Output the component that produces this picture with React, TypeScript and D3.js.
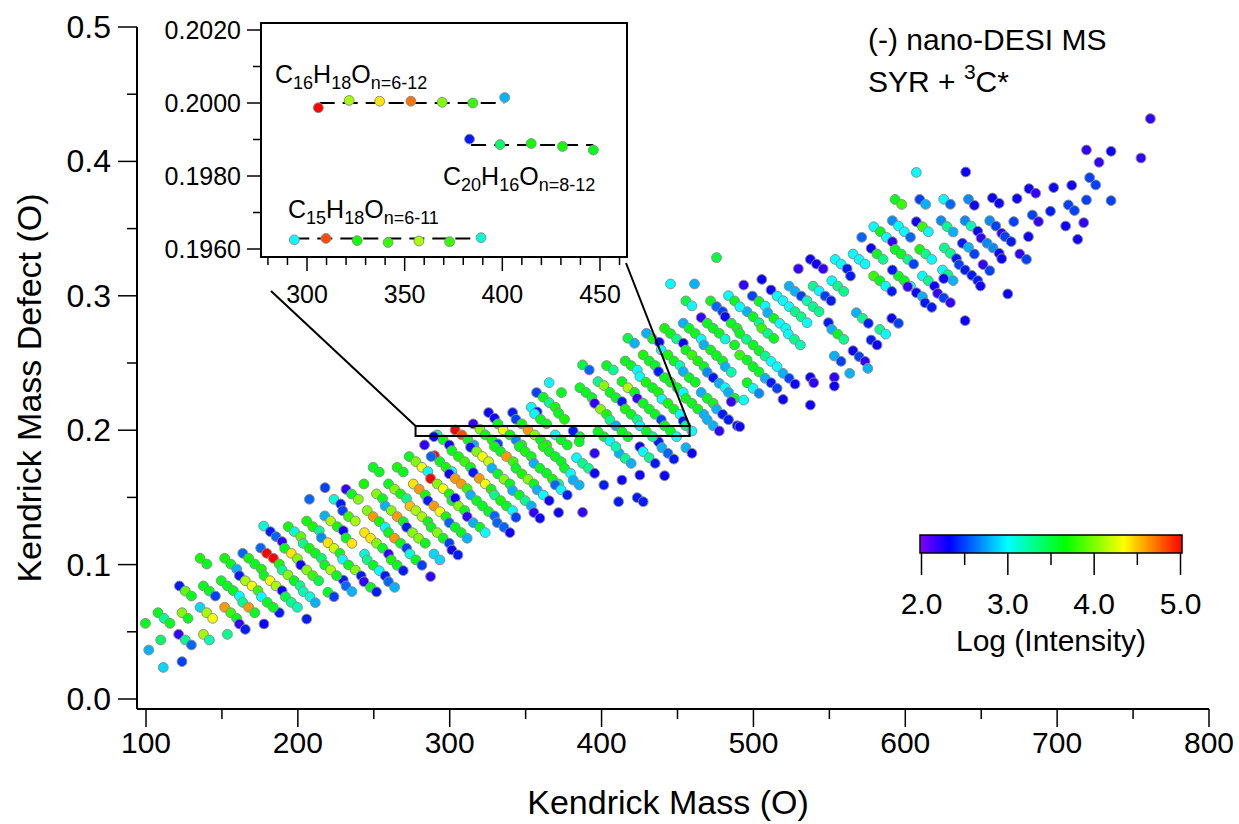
import React, { useEffect, useRef } from 'react'
import * as d3 from 'd3'

const WIDTH = 1239
const HEIGHT = 824

// main axes
const massTicks = [100, 200, 300, 400, 500, 600, 700, 800]
const massMinorTicks = [150, 250, 350, 450, 550, 650, 750]
const defectTicks = [0, 0.1, 0.2, 0.3, 0.4, 0.5]
const defectMinorTicks = [0.05, 0.15, 0.25, 0.35, 0.45]

// colour scale (log intensity)
const intensityTicks = [2, 3, 4, 5]
const intensityMinorTicks = [2.5, 3.5, 4.5]
const colorStops = [2.0, 2.333, 3.0, 3.667, 4.333, 5.0]
const colorValues = ['#8000ff', '#0000ff', '#00ffff', '#00ff00', '#ffff00', '#ff0000']

// [Kendrick mass, Kendrick mass defect, log intensity]
const lowMass = [
  [217.9,.1572,2.5],[231.7,.1560,2.2],[207.6,.1486,2.6],[223.8,.1486,3.1],[228.2,.1451,2.4],[229.5,.1401,2.5],[235.4,.1525,3.6],[239.8,.1486,4.0],
  [217.7,.1362,2.8],[221.6,.1324,4.1],[226.0,.1282,3.7],[229.9,.1252,2.3],[233.4,.1357,3.8],[237.8,.1324,4.1],[231.7,.1198,3.6],[235.6,.1158,4.4],
  [205.8,.1324,3.7],[209.8,.1282,3.7],[214.1,.1252,3.3],[215.5,.1200,2.7],[219.8,.1163,4.4],[223.8,.1121,4.2],[227.7,.1084,3.6],[229.5,.1039,3.0],
  [233.4,.0997,3.6],[237.8,.0960,4.0],[229.9,.0885,2.4],[231.7,.0841,2.6],[235.6,.0799,2.8],[193.7,.1282,3.7],[197.7,.1245,3.1],[201.9,.1208,3.9],
  [203.4,.1158,3.3],[207.6,.1121,3.7],[211.5,.1084,3.6],[215.5,.1047,3.4],[217.7,.0997,3.6],[221.6,.0960,4.1],[225.5,.0918,3.6],[219.8,.0794,3.6],
  [223.8,.0761,2.5],[177.5,.1287,3.1],[181.9,.1245,2.4],[185.6,.1208,2.6],[189.6,.1171,2.2],[191.3,.1121,3.6],[195.7,.1084,4.4],[199.7,.1044,4.0],
  [201.9,.0997,2.3],[205.8,.0960,4.0],[209.8,.0918,3.8],[213.7,.0880,3.5],[175.5,.1123,2.6],[179.5,.1084,5.0],[183.9,.1047,5.0],[187.8,.1004,3.7],
  [189.6,.0960,3.3],[193.5,.0923,4.0],[197.5,.0880,3.6],[201.4,.0843,3.3],[203.6,.0799,3.2],[208.0,.0761,3.1],[211.5,.0717,2.8],[205.8,.0595,2.4],
  [163.7,.1084,2.6],[167.6,.1047,3.7],[171.6,.1004,3.6],[176.0,.0967,3.7],[177.7,.0918,3.6],[181.7,.0880,4.3],[185.6,.0841,4.1],[189.6,.0806,2.3],
  [191.8,.0761,3.5],[195.7,.0719,3.3],[199.7,.0682,3.2],[187.8,.0642,2.4],[177.7,.0558,2.3],[151.8,.1047,3.7],[155.8,.1004,3.6],[159.7,.0967,2.8],
  [161.5,.0918,2.4],[165.4,.0880,4.1],[169.8,.0841,4.3],[173.8,.0806,3.8],[176.0,.0761,3.0],[179.9,.0719,3.6],[183.8,.0682,3.6],[149.6,.0880,3.6],
  [153.6,.0841,3.6],[157.5,.0806,3.6],[161.5,.0766,3.0],[163.7,.0719,3.3],[167.6,.0682,4.6],[171.6,.0642,3.6],[135.6,.1047,3.7],[140.0,.1004,3.6],
  [137.8,.0841,3.6],[141.7,.0803,3.6],[145.7,.0766,2.5],[135.6,.0682,2.9],[140.0,.0642,4.1],[143.9,.0600,4.3],[151.8,.0682,4.6],[155.8,.0642,3.8],
  [159.7,.0600,3.6],[161.5,.0558,2.2],[165.4,.0518,2.4],[122.0,.0841,2.4],[125.9,.0803,3.9],[129.9,.0766,3.6],[107.9,.0642,3.6],[111.9,.0600,3.3],
  [115.8,.0563,3.6],[123.7,.0642,4.0],[127.7,.0600,3.6],[99.6,.0563,3.6],[109.7,.0439,3.4],[101.8,.0364,2.8],[121.5,.0481,2.2],[125.9,.0439,3.3],
  [129.9,.0402,2.6],[137.8,.0481,4.1],[141.7,.0439,3.2],[153.6,.0481,3.3],[111.4,.0235,2.9],[123.7,.0278,2.5],
]

const midLowMass = [
  [365.5,.2354,3.0],[357.2,.2280,2.5],[361.6,.2245,3.6],[365.5,.2205,3.3],[373.6,.2280,3.6],[353.7,.2171,3.0],[357.6,.2136,2.4],[355.9,.2121,3.0],
  [359.8,.2081,3.6],[363.8,.2047,3.6],[369.5,.2171,3.7],[371.7,.2126,3.6],[375.6,.2081,3.7],[325.6,.2131,2.3],[329.5,.2089,2.3],[331.7,.2047,3.6],
  [341.4,.2131,2.4],[343.6,.2081,2.5],[347.5,.2047,3.7],[315.5,.2047,2.2],[319.9,.2007,4.0],[323.4,.1965,3.6],[327.8,.1928,3.7],[331.7,.1898,2.5],
  [303.6,.2002,5.0],[308.0,.1965,4.8],[312.0,.1928,3.6],[315.9,.1890,2.8],[335.2,.2002,4.3],[339.6,.1965,3.6],[343.6,.1928,2.7],[347.5,.1890,3.7],
  [351.5,.2002,4.6],[355.9,.1965,4.0],[359.8,.1928,3.6],[363.8,.1890,3.7],[369.5,.1965,3.0],[373.4,.1928,3.6],[377.4,.1890,3.6],[291.8,.1965,3.3],
  [289.6,.1952,2.3],[295.7,.1928,3.6],[299.7,.1890,2.3],[301.4,.1848,3.6],[305.8,.1804,3.7],[309.8,.1766,3.8],[313.7,.1724,3.6],[315.5,.1685,2.4],
  [313.7,.1873,2.4],[317.7,.1841,4.0],[321.6,.1804,4.3],[325.6,.1766,4.2],[327.8,.1717,2.8],[331.7,.1675,3.6],[335.7,.1635,4.0],[339.6,.1600,3.6],
  [329.5,.1878,3.7],[333.5,.1841,3.6],[337.4,.1804,4.6],[341.8,.1766,3.8],[343.6,.1717,3.6],[347.5,.1675,3.7],[351.5,.1635,4.0],[355.4,.1600,3.6],
  [345.8,.1878,3.6],[349.7,.1841,3.7],[353.7,.1804,3.6],[355.4,.1754,2.8],[359.4,.1717,3.6],[363.8,.1680,3.6],[367.7,.1635,3.7],[371.7,.1600,3.3],
  [361.6,.1878,3.7],[365.5,.1841,3.6],[369.5,.1804,3.6],[373.4,.1766,3.6],[375.6,.1717,3.6],[283.4,.1890,2.2],[273.3,.1804,3.6],[277.7,.1766,4.0],
  [281.7,.1724,4.3],[285.6,.1692,3.0],[290.0,.1810,5.0],[287.8,.1804,2.6],[293.5,.1766,3.6],[297.5,.1724,3.7],[301.4,.1692,3.0],[299.7,.1675,2.3],
  [303.6,.1640,4.6],[307.6,.1600,4.6],[311.5,.1565,3.8],[313.7,.1518,2.8],[317.7,.1476,3.6],[321.6,.1436,3.6],[325.6,.1394,3.6],[329.5,.1362,2.6],
  [331.3,.1312,2.6],[335.7,.1278,2.6],[339.6,.1238,2.3],[287.4,.1640,5.0],[291.8,.1600,4.0],[295.7,.1565,4.3],[299.7,.1526,3.7],[301.4,.1476,3.6],
  [303.6,.1494,2.3],[305.8,.1436,4.0],[309.8,.1402,3.6],[311.5,.1357,2.2],[315.5,.1312,2.8],[319.9,.1278,3.6],[323.4,.1238,3.0],[319.4,.1642,4.6],
  [323.4,.1600,4.3],[327.3,.1561,3.6],[329.5,.1518,3.3],[333.5,.1476,3.7],[337.4,.1436,3.6],[341.4,.1402,3.0],[343.6,.1352,2.5],[341.4,.1551,2.8],
  [345.8,.1518,3.6],[349.7,.1476,3.3],[353.7,.1436,2.8],[355.4,.1387,2.2],[359.4,.1345,2.3],[357.6,.1556,2.8],[361.6,.1518,3.0],[365.5,.1476,2.3],
  [371.7,.1387,2.3],[369.5,.1593,2.6],[373.4,.1556,3.0],[377.4,.1518,2.4],[249.6,.1724,3.6],[253.6,.1689,3.6],[265.4,.1724,3.7],[269.4,.1689,3.6],
  [243.5,.1600,3.7],[259.7,.1600,3.6],[263.7,.1561,4.0],[267.6,.1526,3.7],[271.6,.1491,3.3],[273.8,.1436,4.5],[276.0,.1600,4.4],[279.9,.1561,4.6],
  [283.9,.1518,3.7],[285.6,.1476,2.4],[289.6,.1436,4.6],[293.5,.1394,4.3],[297.5,.1357,3.7],[299.7,.1312,2.6],[303.6,.1278,3.6],[307.6,.1238,3.6],
  [311.5,.1196,2.8],[251.8,.1526,4.0],[255.8,.1491,3.6],[257.5,.1436,2.8],[261.5,.1402,4.0],[265.4,.1357,4.6],[269.4,.1320,3.6],[271.6,.1278,2.4],
  [275.5,.1238,4.0],[279.5,.1196,4.0],[283.9,.1159,3.6],[277.7,.1402,4.1],[281.7,.1357,4.1],[285.6,.1320,3.6],[287.8,.1278,3.6],[291.8,.1238,4.0],
  [295.7,.1196,3.6],[299.7,.1159,2.5],[301.4,.1109,2.3],[305.4,.1072,2.4],[245.7,.1402,4.0],[249.6,.1357,4.6],[253.6,.1320,3.7],[257.5,.1278,3.0],
  [259.7,.1238,3.6],[263.7,.1196,4.6],[267.6,.1159,3.6],[271.6,.1122,2.5],[273.8,.1079,3.1],[277.7,.1035,3.6],[281.7,.0995,2.5],[289.6,.1079,2.9],
  [293.5,.1035,2.9],[287.4,.0911,2.2],[243.9,.1238,4.4],[247.9,.1196,4.4],[251.8,.1159,4.0],[255.8,.1122,3.6],[259.7,.1079,2.2],[261.5,.1035,3.7],
  [265.4,.0995,3.6],[269.4,.0955,2.4],[243.9,.1079,3.1],[245.7,.1035,3.3],[249.6,.0995,3.6],[253.6,.0955,3.0],[257.5,.0916,2.4],[259.7,.0873,2.6],
  [263.7,.0831,2.8],[241.7,.0916,2.4],[243.5,.0873,2.2],[247.9,.0831,3.6],[251.8,.0797,2.4],
]

const midMass = [
  [475.7,.3284,3.5],[445.4,.3088,3.0],[461.2,.3088,2.8],[483.6,.3001,3.0],[487.6,.2962,3.6],[455.5,.2962,3.5],[459.5,.2925,3.0],[471.8,.2962,3.6],
  [475.7,.2920,2.6],[479.7,.2882,2.5],[481.4,.2845,2.3],[465.6,.2838,2.2],[469.6,.2796,3.6],[473.5,.2758,3.6],[477.5,.2721,3.6],[481.4,.2679,3.1],
  [485.4,.2796,3.6],[489.3,.2758,3.6],[453.8,.2796,2.8],[457.7,.2758,3.6],[461.7,.2719,3.6],[465.6,.2679,3.0],[467.4,.2634,2.8],[471.8,.2597,3.6],
  [475.7,.2555,3.6],[479.7,.2515,3.6],[481.4,.2473,2.8],[485.4,.2431,3.2],[441.5,.2758,3.7],[445.4,.2719,3.6],[449.4,.2679,3.3],[453.8,.2647,2.3],
  [455.5,.2597,3.6],[459.5,.2560,3.8],[463.4,.2515,3.7],[467.4,.2473,3.6],[469.6,.2431,2.7],[473.5,.2391,2.4],[477.5,.2349,2.8],[429.6,.2721,2.8],
  [433.6,.2679,3.6],[438.0,.2654,2.3],[439.3,.2597,3.0],[443.7,.2560,3.7],[447.6,.2515,3.6],[451.6,.2481,3.2],[453.8,.2436,2.8],[457.7,.2391,3.6],
  [461.7,.2357,3.6],[417.3,.2684,3.5],[421.7,.2647,2.8],[427.4,.2560,3.7],[431.4,.2515,3.6],[435.3,.2481,3.6],[437.5,.2436,2.4],[441.5,.2391,3.6],
  [445.4,.2357,3.6],[415.6,.2515,3.6],[419.5,.2481,3.6],[423.5,.2448,3.0],[425.2,.2399,3.0],[429.2,.2357,3.7],[403.3,.2481,3.6],[407.7,.2448,3.3],
  [387.5,.2486,3.5],[391.9,.2448,2.6],[413.4,.2362,3.6],[397.6,.2362,3.3],[401.5,.2332,4.0],[487.6,.2634,3.6],
  [385.7,.2316,3.6],[389.7,.2281,3.6],[393.6,.2242,3.6],[395.4,.2200,2.2],[399.3,.2157,4.0],[403.3,.2118,3.7],[405.5,.2076,3.3],[409.4,.2033,2.8],
  [405.5,.2281,3.6],[409.4,.2242,3.6],[413.4,.2212,2.4],[415.6,.2157,3.7],[419.5,.2118,3.6],[423.5,.2078,3.3],[425.2,.2033,3.0],[417.3,.2316,4.1],
  [421.7,.2281,3.6],[423.5,.2237,2.2],[427.4,.2200,3.6],[431.4,.2157,3.6],[435.3,.2118,3.6],[439.3,.2078,2.5],[441.5,.2033,3.6],[445.4,.1994,3.6],
  [449.4,.1952,3.0],[433.6,.2316,3.6],[437.5,.2281,3.7],[439.7,.2232,3.0],[443.7,.2200,3.7],[447.6,.2157,3.6],[451.6,.2118,3.0],[453.8,.2068,2.4],
  [455.5,.2033,3.3],[459.5,.1994,3.0],[449.8,.2316,3.6],[453.8,.2281,3.0],[455.5,.2237,3.6],[459.5,.2200,3.6],[463.4,.2157,3.6],[467.4,.2118,2.8],
  [469.6,.2078,2.8],[473.5,.2033,2.8],[477.5,.1994,2.2],[465.6,.2281,2.8],[469.6,.2237,3.6],[473.5,.2200,3.6],[475.7,.2157,2.8],[479.7,.2118,2.4],
  [483.6,.2078,2.4],[489.3,.2033,2.4],[481.4,.2316,3.0],[483.6,.2281,2.8],[487.6,.2237,3.6],[485.4,.2212,2.2],[381.3,.1994,2.4],[383.5,.1795,3.0],
  [387.5,.1753,3.3],[391.4,.1716,3.3],[395.4,.1679,2.3],[379.6,.1679,3.0],[381.3,.1629,2.8],[385.3,.1592,2.8],[387.5,.1389,2.2],[395.4,.1828,2.2],
  [401.5,.1592,2.4],[413.4,.1629,2.3],[411.2,.1468,2.4],[423.5,.1498,2.4],[427.4,.1468,2.4],[425.2,.1666,2.3],[441.5,.1661,2.3],[411.6,.1828,2.8],
  [415.6,.1790,3.3],[419.5,.1753,2.8],[425.2,.1877,2.3],[427.4,.1840,3.0],[431.4,.1795,3.3],[435.3,.1753,2.4],[437.5,.1914,2.4],[439.7,.1870,2.8],
  [443.7,.1828,2.6],[447.6,.1785,2.4],[455.5,.1870,2.8],[459.5,.1828,2.3],[385.7,.1952,3.6],[401.5,.1952,3.6],[397.6,.1989,3.6],[413.4,.1989,3.6],
  [417.3,.1952,3.6],[429.6,.1989,3.6],[433.6,.1952,3.3],[385.3,.1914,3.6],[405.5,.1919,3.0],[409.4,.1877,3.2],
]

const upperMass = [
  [607.3,.3918,3.0],[593.3,.3717,3.6],[597.6,.3680,3.8],[609.5,.3717,2.5],[613.4,.3680,2.8],[591.5,.3559,2.7],[595.5,.3519,3.0],[599.4,.3477,3.0],
  [603.4,.3435,2.6],[607.3,.3551,2.3],[611.3,.3514,3.8],[615.2,.3477,3.0],[579.2,.3514,3.0],[583.6,.3477,3.6],[587.6,.3435,3.0],[591.5,.3402,2.2],
  [571.3,.3435,2.6],[577.5,.3353,2.3],[581.4,.3311,3.6],[585.4,.3271,3.3],[593.3,.3345,3.6],[597.2,.3311,3.6],[601.6,.3271,3.3],[605.5,.3236,2.5],
  [609.5,.3345,3.7],[613.4,.3311,3.3],[617.4,.3271,3.0],[537.5,.3271,2.3],[541.5,.3236,2.3],[545.9,.3201,2.2],[529.6,.3201,2.2],[553.8,.3271,3.0],
  [557.7,.3236,3.0],[561.7,.3201,2.4],[565.6,.3311,3.0],[569.6,.3271,3.0],[573.5,.3236,3.0],[563.9,.3147,2.4],[579.2,.3147,3.8],[583.2,.3112,3.6],
  [587.1,.3072,3.0],[591.1,.3033,2.4],[595.5,.3147,3.6],[599.4,.3112,3.6],[603.4,.3072,3.0],[591.5,.3192,2.4],[611.3,.3147,3.0],[615.2,.3112,3.3],
  [619.2,.3072,2.3],[601.6,.3068,2.2],[607.3,.3023,2.3],[611.3,.2993,2.8],[613.0,.2948,2.4],[617.4,.2914,2.4],[621.3,.3018,2.2],[551.6,.3112,3.0],
  [555.5,.3072,3.3],[559.5,.3033,3.3],[539.3,.3072,3.3],[543.2,.3037,3.0],[547.2,.2998,2.5],[551.1,.2963,2.4],[523.5,.3072,2.8],[527.4,.3033,2.8],
  [531.4,.2998,2.5],[535.3,.2963,3.2],[539.3,.2919,3.3],[543.2,.2882,3.3],[511.6,.3043,2.3],[515.6,.2998,3.0],[519.5,.2963,3.0],[523.5,.2919,3.0],
  [527.4,.2882,3.3],[531.4,.2844,3.3],[535.3,.2800,3.0],[505.5,.3122,2.3],[493.6,.3080,2.2],[499.3,.2998,2.5],[503.7,.2958,3.6],[507.7,.2924,3.0],
  [509.4,.2874,2.8],[513.4,.2832,3.6],[517.3,.2795,3.0],[521.3,.2758,3.0],[523.0,.2715,3.0],[527.0,.2676,3.3],[530.9,.2634,3.2],[495.8,.2882,2.8],
  [499.8,.2844,3.6],[503.7,.2800,3.3],[505.5,.2758,3.8],[509.4,.2720,3.3],[513.4,.2683,3.6],[549.4,.2800,2.4],[551.6,.2750,2.8],[555.5,.2715,3.6],
  [559.5,.2676,3.3],[567.8,.2874,2.8],[571.8,.2832,3.3],[575.7,.2795,2.4],[577.5,.2671,2.4],[581.4,.2634,2.3],[583.2,.2750,3.3],[587.1,.2715,3.0],
  [591.1,.2832,2.3],[595.5,.2795,2.5],[565.6,.2591,2.3],[569.6,.2547,2.5],[573.5,.2512,2.2],[575.3,.2460,2.8],[553.3,.2552,2.8],[557.7,.2512,2.5],
  [563.4,.2423,2.8],[537.5,.2393,2.3],[539.7,.2353,2.2],[553.3,.2393,2.2],[553.3,.2328,2.3],[537.5,.2187,2.3],[491.0,.2026,2.3],[491.0,.2919,3.0],
  [491.0,.2720,3.6],[495.4,.2676,3.3],[499.8,.2634,3.6],[503.7,.2591,3.6],[507.7,.2552,3.3],[511.6,.2512,3.0],[515.6,.2472,3.0],[519.5,.2423,2.8],
  [523.5,.2386,2.5],[527.4,.2343,2.3],[491.0,.2559,3.8],[495.8,.2522,3.6],[499.8,.2472,3.6],[503.7,.2433,3.6],[507.7,.2386,2.8],[511.6,.2353,2.4],
  [515.6,.2311,2.5],[519.5,.2229,2.3],[495.8,.2353,3.6],[499.8,.2311,3.0],[503.7,.2274,2.7],[493.6,.2224,3.0],
]

const highMass = [
  [761.4,.4318,2.2],[719.3,.4085,2.2],[735.5,.4075,2.3],[727.6,.3993,2.2],[755.2,.4025,2.2],[721.4,.3879,2.5],[725.4,.3825,2.5],[639.8,.3921,2.3],
  [681.5,.3797,2.3],[685.9,.3763,2.2],[697.7,.3805,2.3],[709.6,.3822,2.3],[673.6,.3723,2.3],[657.4,.3728,2.3],[661.8,.3688,2.3],[641.6,.3718,2.7],
  [645.5,.3673,2.3],[625.3,.3718,3.0],[629.7,.3681,2.6],[719.3,.3713,2.5],[735.5,.3708,2.5],[707.4,.3676,2.5],[711.4,.3634,2.5],[695.6,.3629,2.4],
  [683.7,.3601,2.5],[687.7,.3552,2.2],[671.4,.3552,2.5],[655.6,.3559,2.7],[659.6,.3519,2.5],[663.5,.3465,2.2],[665.7,.3440,2.5],[669.7,.3403,2.4],
  [639.4,.3559,2.7],[643.3,.3519,3.2],[647.7,.3480,2.3],[649.9,.3430,2.2],[653.9,.3391,2.7],[657.8,.3356,2.7],[661.8,.3316,2.3],[663.5,.3276,2.3],
  [623.6,.3559,2.7],[627.5,.3515,3.3],[631.5,.3475,2.8],[637.6,.3391,2.4],[641.6,.3361,2.8],[645.5,.3311,2.5],[625.8,.3356,3.3],[629.7,.3316,3.3],
  [633.7,.3276,2.4],[635.4,.3232,2.5],[639.4,.3192,2.4],[643.8,.3152,2.4],[647.7,.3113,2.4],[649.5,.3073,2.3],[651.2,.3232,2.2],[655.6,.3187,2.5],
  [675.4,.3311,2.2],[679.8,.3271,2.5],[681.1,.3440,2.3],[705.6,.3519,2.3],[717.5,.3544,2.2],[713.5,.3420,2.3],[667.5,.3014,2.3],[639.4,.2815,2.3],
  [624.5,.3192,3.0],[628.0,.3157,3.3],[631.5,.3113,2.8],[625.3,.3128,2.3],[625.3,.2984,2.5],[629.7,.2949,2.2],
]

// inset: zoomed window
const insetMassDomain = [276.45, 463.83]
const insetDefectDomain = [0.195781, 0.202192]
const insetMassTicks = [300, 350, 400, 450]
const insetMassMinor = [280, 290, 310, 320, 330, 340, 360, 370, 380, 390, 410, 420, 430, 440, 460]
const insetDefectTicks = [0.196, 0.198, 0.200, 0.202]
const insetDefectMinor = [0.197, 0.199, 0.201]
const zoomMass = [277.5, 458]
const zoomDefect = [0.1957, 0.2031]

// homologous series in the inset
const c16Mass = [305.8, 321.6, 337.2, 353.2, 369.2, 384.9, 401.2]
const c16Defect = [0.19987, 0.20007, 0.20005, 0.20005, 0.20002, 0.20000, 0.20015]
const c16Int = [5.0, 4.1, 4.4, 4.7, 4.0, 3.8, 2.8]
const c20Mass = [383.2, 398.8, 414.8, 430.8, 446.6]
const c20Defect = [0.19901, 0.19886, 0.19889, 0.19881, 0.19871]
const c20Int = [2.4, 3.4, 3.7, 3.7, 3.6]
const c15Mass = [293.5, 309.7, 325.7, 341.5, 357.3, 373.0, 389.1]
const c15Defect = [0.19625, 0.19629, 0.19623, 0.19618, 0.19622, 0.19620, 0.19631]
const c15Int = [3.0, 4.8, 3.7, 3.8, 4.1, 3.8, 3.1]
const seriesLines = [
  { defect: 0.2000, from: 306.5, to: 401 },
  { defect: 0.19885, from: 384, to: 446.6 },
  { defect: 0.19629, from: 293.5, to: 389 },
]

const FONT = '"Liberation Sans", Arial, Helvetica, sans-serif'

function formula(g, x, y, parts) {
  const t = g.append('text').attr('x', x).attr('y', y).attr('font-size', 25)
  let shifted = false
  parts.forEach(([s, sub]) => {
    let dy = 0
    if (sub && !shifted) dy = 6
    if (!sub && shifted) dy = -6
    shifted = sub
    t.append('tspan').attr('dy', dy).attr('font-size', sub ? 18 : 25).text(s)
  })
}

function drawChart(node) {
  const svg = d3.select(node)
  svg.selectAll('*').remove()
  svg.attr('font-family', FONT)

  const x = d3.scaleLinear().domain([100, 800]).range([146, 1209])
  const y = d3.scaleLinear().domain([0, 0.5]).range([699, 27])
  const color = d3.scaleLinear().domain(colorStops).range(colorValues).clamp(true)

  const left = 137
  const bottom = 709

  // scatter
  const points = [...lowMass, ...midLowMass, ...midMass, ...upperMass, ...highMass]
  svg.append('g')
    .selectAll('circle').data(points).join('circle')
    .attr('cx', d => x(d[0]))
    .attr('cy', d => y(d[1]))
    .attr('r', 4.9)
    .attr('fill', d => color(d[2]))
    .attr('stroke', '#8c8c8c')
    .attr('stroke-width', 1)

  // axes
  const axes = svg.append('g').attr('stroke', '#000')
  axes.append('line').attr('x1', left).attr('x2', x(800)).attr('y1', bottom).attr('y2', bottom).attr('stroke-width', 2)
  axes.append('line').attr('x1', left).attr('x2', left).attr('y1', y(0.5)).attr('y2', bottom).attr('stroke-width', 2)
  axes.selectAll('.xmaj').data(massTicks).join('line').attr('class', 'xmaj')
    .attr('x1', d => x(d)).attr('x2', d => x(d)).attr('y1', bottom).attr('y2', bottom + 18).attr('stroke-width', 1.5)
  axes.selectAll('.xmin').data(massMinorTicks).join('line').attr('class', 'xmin')
    .attr('x1', d => x(d)).attr('x2', d => x(d)).attr('y1', bottom).attr('y2', bottom + 10).attr('stroke-width', 1.5)
  axes.selectAll('.ymaj').data(defectTicks).join('line').attr('class', 'ymaj')
    .attr('x1', left - 19).attr('x2', left).attr('y1', d => y(d)).attr('y2', d => y(d)).attr('stroke-width', 1.5)
  axes.selectAll('.ymin').data(defectMinorTicks).join('line').attr('class', 'ymin')
    .attr('x1', left - 10).attr('x2', left).attr('y1', d => y(d)).attr('y2', d => y(d)).attr('stroke-width', 1.5)

  svg.append('g').selectAll('text').data(massTicks).join('text')
    .attr('x', d => x(d)).attr('y', bottom + 44)
    .attr('text-anchor', 'middle').attr('font-size', 30)
    .text(d => d)
  svg.append('g').selectAll('text').data(defectTicks).join('text')
    .attr('x', left - 26).attr('y', d => y(d) + 11)
    .attr('text-anchor', 'end').attr('font-size', 32)
    .text(d => d3.format('.1f')(d))

  svg.append('text').attr('x', 668).attr('y', 814).attr('text-anchor', 'middle').attr('font-size', 34)
    .text('Kendrick Mass (O)')
  svg.append('text').attr('transform', 'translate(41,388) rotate(-90)').attr('text-anchor', 'middle').attr('font-size', 34)
    .text('Kendrick Mass Defect (O)')

  // annotation
  svg.append('text').attr('x', 868).attr('y', 50).attr('font-size', 30).text('(-) nano-DESI MS')
  const t2 = svg.append('text').attr('x', 868).attr('y', 92).attr('font-size', 30)
  t2.append('tspan').text('SYR + ')
  t2.append('tspan').attr('dy', -13).attr('font-size', 21).text('3')
  t2.append('tspan').attr('dy', 13).text('C*')

  // colour bar
  const cb = d3.scaleLinear().domain([2, 5]).range([921.5, 1180.5])
  const grad = svg.append('defs').append('linearGradient').attr('id', 'cbgrad')
  grad.selectAll('stop').data(colorStops).join('stop')
    .attr('offset', d => (d - 2) / 3)
    .attr('stop-color', d => color(d))
  svg.append('rect').attr('x', 920).attr('y', 535).attr('width', 262).attr('height', 18)
    .attr('fill', 'url(#cbgrad)').attr('stroke', '#000').attr('stroke-width', 1.5)
  svg.append('g').attr('stroke', '#000').attr('stroke-width', 1.5)
    .selectAll('line').data([...intensityTicks, ...intensityMinorTicks]).join('line')
    .attr('x1', d => cb(d)).attr('x2', d => cb(d)).attr('y1', 553)
    .attr('y2', d => (intensityTicks.includes(d) ? 575 : 565))
  svg.append('g').selectAll('text').data(intensityTicks).join('text')
    .attr('x', d => cb(d)).attr('y', 614).attr('text-anchor', 'middle').attr('font-size', 30)
    .text(d => d3.format('.1f')(d))
  svg.append('text').attr('x', 1051).attr('y', 651).attr('text-anchor', 'middle').attr('font-size', 30)
    .text('Log (Intensity)')

  // zoom box and connectors
  const zx0 = x(zoomMass[0]), zx1 = x(zoomMass[1])
  const zy0 = y(zoomDefect[1]), zy1 = y(zoomDefect[0])
  svg.append('rect').attr('x', zx0).attr('y', zy0).attr('width', zx1 - zx0).attr('height', zy1 - zy0)
    .attr('fill', 'none').attr('stroke', '#000').attr('stroke-width', 2)
  svg.append('line').attr('x1', 271).attr('y1', 291).attr('x2', zx0).attr('y2', zy0).attr('stroke', '#000').attr('stroke-width', 2)
  svg.append('line').attr('x1', 626).attr('y1', 263).attr('x2', zx1).attr('y2', zy0).attr('stroke', '#000').attr('stroke-width', 2)

  // inset
  const ix = d3.scaleLinear().domain(insetMassDomain).range([261, 627])
  const iy = d3.scaleLinear().domain(insetDefectDomain).range([257, 23])
  const inset = svg.append('g')
  inset.append('rect').attr('x', 261).attr('y', 23).attr('width', 366).attr('height', 234)
    .attr('fill', '#fff').attr('stroke', '#000').attr('stroke-width', 2)
  const iax = inset.append('g').attr('stroke', '#000').attr('stroke-width', 1.5)
  iax.selectAll('.ixmaj').data(insetMassTicks).join('line').attr('class', 'ixmaj')
    .attr('x1', d => ix(d)).attr('x2', d => ix(d)).attr('y1', 257).attr('y2', 271)
  iax.selectAll('.ixmin').data(insetMassMinor).join('line').attr('class', 'ixmin')
    .attr('x1', d => ix(d)).attr('x2', d => ix(d)).attr('y1', 257).attr('y2', 265)
  iax.selectAll('.iymaj').data(insetDefectTicks).join('line').attr('class', 'iymaj')
    .attr('x1', 247).attr('x2', 261).attr('y1', d => iy(d)).attr('y2', d => iy(d))
  iax.selectAll('.iymin').data(insetDefectMinor).join('line').attr('class', 'iymin')
    .attr('x1', 253).attr('x2', 261).attr('y1', d => iy(d)).attr('y2', d => iy(d))
  inset.append('g').selectAll('text').data(insetMassTicks).join('text')
    .attr('x', d => ix(d)).attr('y', 303).attr('text-anchor', 'middle').attr('font-size', 25)
    .text(d => d)
  inset.append('g').selectAll('text').data(insetDefectTicks).join('text')
    .attr('x', 241).attr('y', d => iy(d) + 9).attr('text-anchor', 'end').attr('font-size', 25)
    .text(d => d3.format('.4f')(d))

  inset.append('g').selectAll('line').data(seriesLines).join('line')
    .attr('x1', d => ix(d.from)).attr('x2', d => ix(d.to))
    .attr('y1', d => iy(d.defect)).attr('y2', d => iy(d.defect))
    .attr('stroke', '#000').attr('stroke-width', 2).attr('stroke-dasharray', '15,8')

  const series = [
    [c16Mass, c16Defect, c16Int],
    [c20Mass, c20Defect, c20Int],
    [c15Mass, c15Defect, c15Int],
  ]
  series.forEach(([m, k, v]) => {
    inset.append('g').selectAll('circle').data(m.map((mm, i) => [mm, k[i], v[i]])).join('circle')
      .attr('cx', d => ix(d[0])).attr('cy', d => iy(d[1])).attr('r', 4.9)
      .attr('fill', d => color(d[2])).attr('stroke', '#8c8c8c').attr('stroke-width', 1)
  })

  formula(inset, 275, 83, [['C', false], ['16', true], ['H', false], ['18', true], ['O', false], ['n=6-12', true]])
  formula(inset, 443, 185, [['C', false], ['20', true], ['H', false], ['16', true], ['O', false], ['n=8-12', true]])
  formula(inset, 288, 218, [['C', false], ['15', true], ['H', false], ['18', true], ['O', false], ['n=6-11', true]])
}

export default function App() {
  const ref = useRef(null)
  useEffect(() => {
    document.body.style.margin = '0'
    drawChart(ref.current)
  }, [])
  return <svg ref={ref} width={WIDTH} height={HEIGHT} style={{ display: 'block', background: '#fff' }} />
}
